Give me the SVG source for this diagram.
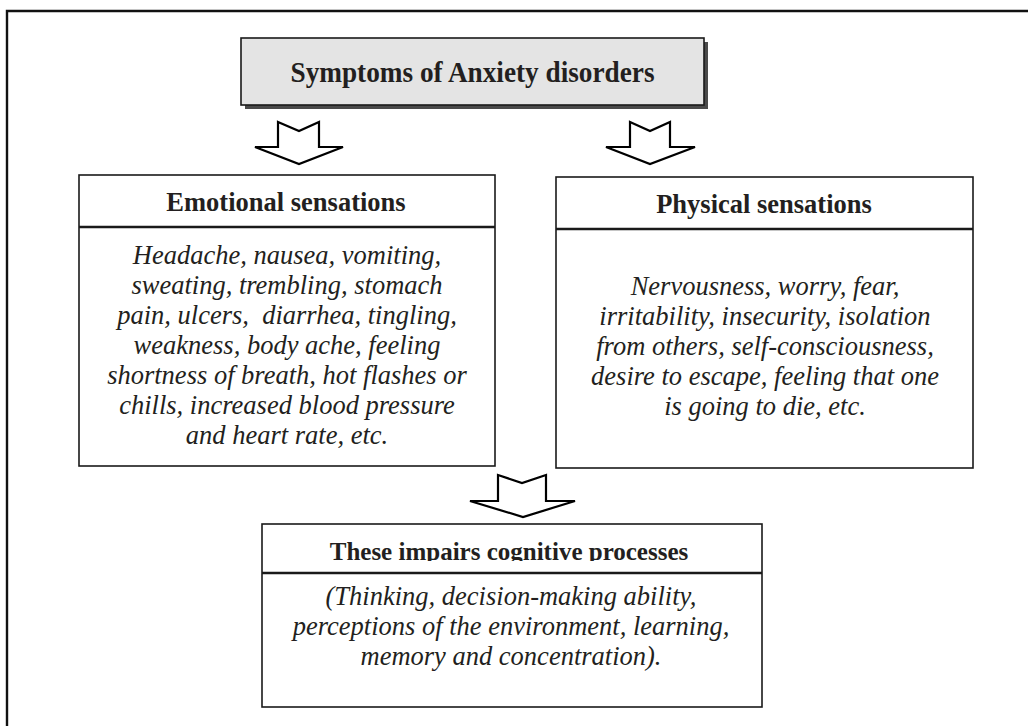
<svg xmlns="http://www.w3.org/2000/svg" width="1028" height="726" viewBox="0 0 1028 726">
<defs>
<style>
.box{fill:#fff;stroke:#1a1a1a;stroke-width:1.6}
.sep{stroke:#1a1a1a;stroke-width:2.4}
.hd{font-family:"Liberation Serif","Times New Roman",serif;font-weight:bold;fill:#231f20;text-anchor:middle}
.bd{font-family:"Liberation Serif","Times New Roman",serif;font-style:italic;font-size:26.5px;fill:#231f20;text-anchor:middle}
.arrow{fill:#fff;stroke:#000;stroke-width:2.2;stroke-linejoin:miter}
</style>
<clipPath id="clipHead"><rect x="262" y="524" width="500" height="37"/></clipPath>
</defs>
<rect width="1028" height="726" fill="#fff"/>
<path d="M7 726 V11 H1028" fill="none" stroke="#111" stroke-width="2.4"/>

<g id="title">
<rect x="245" y="42" width="463" height="67" fill="#4a4a4a"/>
<rect x="241" y="38" width="463" height="67" fill="#e4e4e4" stroke="#1a1a1a" stroke-width="1.6"/>
<text class="hd" x="472.5" y="82" font-size="30" textLength="364" lengthAdjust="spacingAndGlyphs">Symptoms of Anxiety disorders</text>
</g>

<g id="connectors">
<polygon class="arrow" points="278,122 299,131 319,122 319,147 343,147 299,164 255,147 278,147"/>
<polygon class="arrow" points="630,122 650,131 670,122 670,147 695,147 650,164 606,147 630,147"/>
<polygon class="arrow" points="498,475 522,483 546,475 546,501 575,501 523,517 470,501 498,501"/>
</g>

<g id="emotional">
<rect class="box" x="79" y="175" width="416" height="291"/>
<line class="sep" x1="79" y1="227" x2="495" y2="227"/>
<text class="hd" x="286" y="211" font-size="26.5">Emotional sensations</text>
<text class="bd" x="287" y="264">Headache, nausea, vomiting,</text>
<text class="bd" x="287" y="294">sweating, trembling, stomach</text>
<text class="bd" x="287" y="324" xml:space="preserve">pain, ulcers,  diarrhea, tingling,</text>
<text class="bd" x="287" y="354">weakness, body ache, feeling</text>
<text class="bd" x="287" y="384">shortness of breath, hot flashes or</text>
<text class="bd" x="287" y="414">chills, increased blood pressure</text>
<text class="bd" x="287" y="444">and heart rate, etc.</text>
</g>

<g id="physical">
<rect class="box" x="556" y="177" width="417" height="291"/>
<line class="sep" x1="556" y1="229" x2="973" y2="229"/>
<text class="hd" x="764" y="213" font-size="26.5">Physical sensations</text>
<text class="bd" x="765" y="295">Nervousness, worry, fear,</text>
<text class="bd" x="765" y="325">irritability, insecurity, isolation</text>
<text class="bd" x="765" y="355">from others, self-consciousness,</text>
<text class="bd" x="765" y="385">desire to escape, feeling that one</text>
<text class="bd" x="765" y="415">is going to die, etc.</text>
</g>

<g id="cognitive">
<rect class="box" x="262" y="524" width="500" height="183"/>
<line class="sep" x1="262" y1="573" x2="762" y2="573"/>
<text class="hd" x="509" y="560" font-size="25" clip-path="url(#clipHead)">These impairs cognitive processes</text>
<text class="bd" x="511" y="605">(Thinking, decision-making ability,</text>
<text class="bd" x="511" y="635">perceptions of the environment, learning,</text>
<text class="bd" x="511" y="665">memory and concentration).</text>
</g>
</svg>
